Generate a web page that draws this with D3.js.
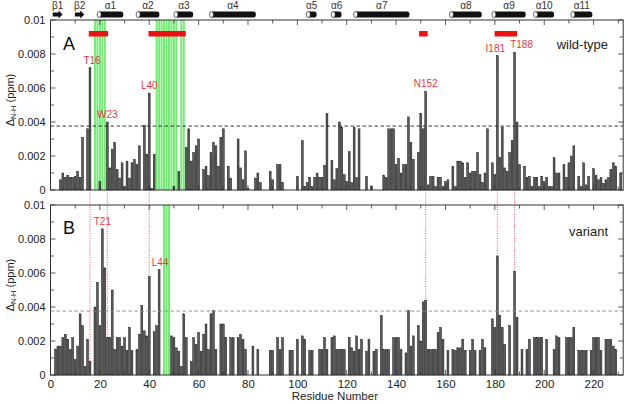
<!DOCTYPE html>
<html><head><meta charset="utf-8">
<script src="https://cdn.jsdelivr.net/npm/d3@7"></script>
<style>body{margin:0;background:#fff}svg{display:block}text{font-family:"Liberation Sans",Arial,Helvetica,sans-serif}</style>
</head><body><div id="chart"></div>
<script>
// ---------- DATA ----------
const residuesWT = [4,5,6,7,8,9,10,11,12,13,15,16,20,23,24,25,26,27,28,29,30,31,32,33,34,35,36,38,39,40,41,42,50,52,55,56,57,58,59,60,62,63,64,65,66,67,68,69,70,72,73,76,77,78,79,80,83,84,85,89,90,92,93,94,100,102,103,104,105,106,107,108,109,110,111,112,114,115,116,117,118,119,120,121,122,123,124,125,128,130,135,136,137,138,139,140,141,142,143,144,145,146,147,149,150,151,152,153,154,155,156,157,158,159,160,161,163,164,165,166,167,168,169,170,171,172,173,174,175,176,177,179,180,181,182,183,184,185,186,187,188,189,190,192,193,194,195,196,197,198,199,200,201,202,203,204,205,206,208,209,210,211,212,214,215,216,217,218,220,221,222,223,224,225,226,227,228,229,231];
const shiftsWT = [0.0006,0.001,0.00075,0.00085,0.00075,0.00075,0.0008,0.0011,0.00075,0.0031,0.0036,0.0072,0.0005,0.0040,0.0013,0.0024,0.0028,0.0012,0.0007,0.0016,0.0002,0.0017,0.0007,0.0016,0.0018,0.0015,0.0026,0.0038,0.0021,0.0057,0.0001,0.0021,0.0002,0.0011,0.0025,0.0036,0.0017,0.0022,0.0026,0.0030,0.0012,0.0014,0.00085,0.0022,0.0028,0.0026,0.0014,0.0031,0.0036,0.0014,0.0007,0.0030,0.0013,0.0006,0.0023,0.0001,0.0007,0.001,0.00043,0.0011,0.0006,0.0015,0.0015,0.00045,0.0008,0.0029,0.0002,0.00045,0.00075,0.0002,0.00075,0.001,0.00075,0.00075,0.00145,0.0045,0.00175,0.0006,0.00125,0.004,0.0037,0.0009,0.0005,0.00225,0.00043,0.0037,0.00073,0.0036,0.0008,0.00024,0.00086,0.00073,0.0036,0.0036,0.0036,0.0015,0.00186,0.001,0.0015,0.0015,0.0043,0.0028,0.0018,0.0022,0.0045,0.0036,0.0058,0.0003,0.0008,0.0008,0.0002,0.00075,0.00075,0.0002,0.0005,0.0006,0.0014,0.0002,0.0017,0.0017,0.0016,0.00075,0.0016,0.001,0.0011,0.0011,0.0022,0.0009,0.00045,0.001,0.0036,0.0016,0.0009,0.0079,0.0019,0.0037,0.0013,0.0011,0.0022,0.0029,0.0081,0.004,0.0015,0.0014,0.00075,0.0008,0.0002,0.00075,0.00075,0.0002,0.0008,0.0005,0.00075,0.0002,0.0002,0.0019,0.001,0.001,0.0015,0.00075,0.0016,0.002,0.0026,0.0008,0.0002,0.0016,0.0003,0.0008,0.00125,0.00086,0.0006,0.00073,0.0004,0.0006,0.00073,0.0012,0.0016,0.0014,0.001];

const residuesVar = [2,3,4,5,6,7,8,9,10,11,12,13,14,15,16,18,19,20,21,22,23,24,25,26,27,28,29,30,31,32,33,35,36,37,38,39,40,42,43,44,49,50,51,52,53,54,55,57,58,59,60,61,62,63,64,65,66,67,69,70,71,73,74,76,77,78,79,82,84,89,90,92,93,94,97,98,100,102,103,105,106,109,110,111,112,114,115,116,117,118,119,121,122,123,124,125,126,128,129,131,132,134,135,136,137,139,140,141,142,144,145,146,147,149,150,151,152,153,154,155,156,157,158,159,161,163,164,165,166,167,168,170,171,172,174,175,176,179,180,181,182,183,184,186,188,189,191,193,194,196,197,198,199,201,204,205,206,209,210,211,212,214,215,216,217,219,220,221,222,223,225,226,227,228,229];
const shiftsVar = [0.00153,0.0017,0.0017,0.0022,0.0024,0.0021,0.0015,0.0022,0.0009,0.0017,0.0036,0.0029,0.0005,0.0021,0.0008,0.004,0.00545,0.0029,0.0086,0.0063,0.0022,0.0022,0.005,0.0015,0.0022,0.0022,0.0017,0.0022,0.00145,0.0028,0.00145,0.0015,0.0024,0.0041,0.0026,0.0023,0.0058,0.00255,0.0029,0.0062,0.0023,0.0022,0.0016,0.0014,0.0005,0.0036,0.0022,0.0008,0.0022,0.0018,0.0025,0.0014,0.0024,0.003,0.0015,0.0036,0.0038,0.0015,0.003,0.003,0.0022,0.0022,0.0022,0.0022,0.0024,0.0021,0.0015,0.0017,0.0015,0.00145,0.00145,0.0022,0.0015,0.0022,0.00145,0.00145,0.0021,0.0023,0.0021,0.00145,0.00145,0.0015,0.0015,0.0022,0.0015,0.0022,0.0023,0.0015,0.0015,0.0015,0.0015,0.0022,0.0016,0.0014,0.0023,0.0015,0.0021,0.0014,0.0021,0.0014,0.0015,0.0035,0.0015,0.0015,0.0015,0.0022,0.0022,0.0022,0.0015,0.0013,0.0038,0.0017,0.0023,0.0029,0.002,0.0043,0.0044,0.0015,0.0015,0.0015,0.0015,0.0025,0.0028,0.0021,0.00145,0.0015,0.00145,0.0016,0.0016,0.0021,0.00145,0.00145,0.0021,0.00145,0.00145,0.0021,0.0016,0.0033,0.0028,0.007,0.0035,0.0028,0.0018,0.0029,0.0061,0.0034,0.0015,0.0015,0.0021,0.0022,0.0022,0.0022,0.0022,0.0021,0.0015,0.0023,0.0022,0.0022,0.0022,0.0022,0.0028,0.00145,0.00145,0.00145,0.00145,0.00145,0.0022,0.0022,0.0022,0.00145,0.0021,0.0021,0.0021,0.0017,0.0015];

const threshold = 0.00376;
const yTicks = [0, 0.002, 0.004, 0.006, 0.008, 0.01];
const yTickLabels = ["0", "0.002", "0.004", "0.006", "0.008", "0.01"];
const xTicks = [0, 20, 40, 60, 80, 100, 120, 140, 160, 180, 200, 220];

// secondary structure
const ssNames = ["β1","β2","α1","α2","α3","α4","α5","α6","α7","α8","α9","α10","α11"];
const ssTypes = ["b","b","a","a","a","a","a","a","a","a","a","a","a"];
const ssStart = [0.9, 9.9, 19.1, 34.9, 50.2, 64.6, 103.8, 113.9, 123, 161.8, 179, 195.9, 211];
const ssEnd   = [4.9, 13.7, 29.5, 44.1, 57.8, 83.2, 107.8, 117.9, 145.4, 174.7, 192.5, 204, 219.5];

// red highlighted segments (wild-type)
const segStart = [15.5, 39.7, 149.3, 179.9];
const segEnd   = [23.3, 54.8, 152.8, 189];

// green residues
const greenWT  = [18,19,20,21,22,43,44,45,46,47,48,49,50,51,53,54];
const greenVar = [46,47,48];

// labelled residues
const labelsWT  = [16, 23, 40, 152, 181, 188];
const labelsWTText = ["T16","W23","L40","N152","I181","T188"];
const labelsVar = [21, 44];
const labelsVarText = ["T21","L44"];
const linkResidues = [16, 23, 40, 152, 181, 188];

// ---------- DRAW ----------
const W = 626, H = 404;
const svg = d3.select("#chart").append("svg").attr("width", W).attr("height", H);
const x = d3.scaleLinear().domain([0, 232]).range([50.5, 623.2]);
const yA = d3.scaleLinear().domain([0, 0.01]).range([190, 20]);
const yB = d3.scaleLinear().domain([0, 0.01]).range([375, 205]);
const wtMap = new Map(residuesWT.map((r, i) => [r, shiftsWT[i]]));
const varMap = new Map(residuesVar.map((r, i) => [r, shiftsVar[i]]));
const labelNudge = {T16: 2, T188: 7, I181: -2, L44: 1};
const FONT = '"Liberation Sans",Arial,sans-serif';

function panel(y, residues, shifts, greens, dashColor) {
  const g = svg.append("g");
  g.selectAll("rect.gr").data(greens).enter().append("rect")
    .attr("x", d => x(d) - 1).attr("width", 2)
    .attr("y", y.range()[1]).attr("height", y.range()[0] - y.range()[1])
    .attr("fill", "#74ec74");
  const bw = 1.9;
  g.selectAll("rect.bar").data(residues).enter().append("rect")
    .attr("x", d => x(d) - bw / 2).attr("width", bw)
    .attr("y", (d, i) => y(shifts[i])).attr("height", (d, i) => y(0) - y(shifts[i]))
    .attr("fill", "#5a5a5a").attr("stroke", "#111").attr("stroke-width", 0.45);
  g.append("line").attr("x1", x(0)).attr("x2", x(232))
    .attr("y1", y(threshold)).attr("y2", y(threshold))
    .attr("stroke", dashColor).attr("stroke-width", 0.9).attr("stroke-dasharray", "3.5,2.5");
  const left = d3.axisLeft(y).tickValues(yTicks).tickFormat((d, i) => yTickLabels[i]).tickSize(0).tickPadding(5);
  const la = g.append("g").attr("transform", `translate(${x(0)},0)`).call(left);
  la.select(".domain").remove();
  la.selectAll("text").attr("font-size", 11).attr("fill", "#222").attr("font-family", FONT);
  const minorY = d3.range(0, 0.0101, 0.001);
  g.selectAll("line.yl").data(minorY).enter().append("line")
    .attr("x1", x(0)).attr("x2", (d, i) => x(0) + (i % 2 === 0 ? 5 : 3.5))
    .attr("y1", d => y(d)).attr("y2", d => y(d)).attr("stroke", "#333").attr("stroke-width", 0.8);
  g.selectAll("line.yr").data(minorY).enter().append("line")
    .attr("x1", x(232)).attr("x2", (d, i) => x(232) - (i % 2 === 0 ? 5 : 3.5))
    .attr("y1", d => y(d)).attr("y2", d => y(d)).attr("stroke", "#333").attr("stroke-width", 0.8);
  const minorX = d3.range(10, 231, 10);
  g.selectAll("line.xb").data(minorX).enter().append("line")
    .attr("x1", d => x(d)).attr("x2", d => x(d))
    .attr("y1", y(0)).attr("y2", d => y(0) - (d % 20 === 0 ? 5 : 3.5)).attr("stroke", "#333").attr("stroke-width", 0.8);
  g.selectAll("line.xt").data(minorX).enter().append("line")
    .attr("x1", d => x(d)).attr("x2", d => x(d))
    .attr("y1", y(0.01)).attr("y2", d => y(0.01) + (d % 20 === 0 ? 5 : 3.5)).attr("stroke", "#333").attr("stroke-width", 0.8);
  g.append("rect").attr("x", x(0)).attr("y", y(0.01)).attr("width", x(232) - x(0)).attr("height", y(0) - y(0.01))
    .attr("fill", "none").attr("stroke", "#333").attr("stroke-width", 1);
  const cy = (y(0) + y(0.01)) / 2 - 5;
  const t = g.append("text").attr("transform", `translate(14,${cy}) rotate(-90)`)
    .attr("text-anchor", "middle").attr("font-size", 11).attr("fill", "#222");
  t.append("tspan").text("Δ");
  t.append("tspan").attr("font-size", 7.5).attr("dy", 1.5).text("N-H");
  t.append("tspan").attr("dy", -1.5).text(" (ppm)");
  return g;
}

const links = svg.append("g");
links.selectAll("line").data(linkResidues).enter().append("line")
  .attr("x1", d => x(d)).attr("x2", d => x(d))
  .attr("y1", yA(0)).attr("y2", d => yB(varMap.get(d) || 0))
  .attr("stroke", "#e0474c").attr("stroke-width", 0.9).attr("stroke-dasharray", "1,1.4");

panel(yA, residuesWT, shiftsWT, greenWT, "#222");
panel(yB, residuesVar, shiftsVar, greenVar, "#888");

const bx = d3.axisBottom(x).tickValues(xTicks).tickSize(0).tickPadding(5).tickFormat(d3.format("d"));
const bxa = svg.append("g").attr("transform", `translate(0,${yB(0)})`).call(bx);
bxa.select(".domain").remove();
bxa.selectAll("text").attr("font-size", 11.5).attr("fill", "#222").attr("font-family", FONT);
svg.append("text").attr("x", (x(0) + x(232)) / 2 - 2).attr("y", 400).attr("text-anchor", "middle")
  .attr("font-size", 11.5).attr("fill", "#222").text("Residue Number");

svg.append("g").selectAll("rect").data(segStart).enter().append("rect")
  .attr("x", d => x(d)).attr("width", (d, i) => x(segEnd[i]) - x(d))
  .attr("y", 31).attr("height", 5.5).attr("fill", "#ee1111");

const ss = svg.append("g");
ssNames.forEach((n, i) => {
  const x1 = x(ssStart[i]), x2 = x(ssEnd[i]);
  if (ssTypes[i] === "b") {
    ss.append("path").attr("d", `M${x1},12.5 L${x2 - 4},12.5 L${x2 - 4},10.5 L${x2},14.5 L${x2 - 4},18.5 L${x2 - 4},16.5 L${x1},16.5 Z`)
      .attr("fill", "#111");
  } else {
    ss.append("rect").attr("x", x1).attr("y", 11.5).attr("width", x2 - x1).attr("height", 6).attr("rx", 2.5).attr("fill", "#111");
    ss.append("ellipse").attr("cx", x1 + 1.5).attr("cy", 14.5).attr("rx", 2).attr("ry", 3).attr("fill", "#fff").attr("stroke", "#222").attr("stroke-width", 0.7);
  }
  ss.append("text").attr("x", (x1 + x2) / 2).attr("y", 9).attr("text-anchor", "middle")
    .attr("font-size", 10).attr("fill", "#333").text(n);
});

function addLabels(y, res, texts, map) {
  svg.append("g").selectAll("text").data(res).enter().append("text")
    .attr("x", (d, i) => x(d) + (labelNudge[texts[i]] || 0))
    .attr("y", d => y(map.get(d)) - 4)
    .attr("text-anchor", "middle").attr("font-size", 10).attr("fill", "#e8383d")
    .text((d, i) => texts[i]);
}
addLabels(yA, labelsWT, labelsWTText, wtMap);
addLabels(yB, labelsVar, labelsVarText, varMap);

svg.append("text").attr("x", 63).attr("y", 50).attr("font-size", 18).attr("fill", "#111").text("A");
svg.append("text").attr("x", 63).attr("y", 234).attr("font-size", 18).attr("fill", "#111").text("B");
svg.append("text").attr("x", 608).attr("y", 49).attr("text-anchor", "end").attr("font-size", 13).attr("fill", "#222").text("wild-type");
svg.append("text").attr("x", 608).attr("y", 236).attr("text-anchor", "end").attr("font-size", 13).attr("fill", "#222").text("variant");
</script></body></html>
